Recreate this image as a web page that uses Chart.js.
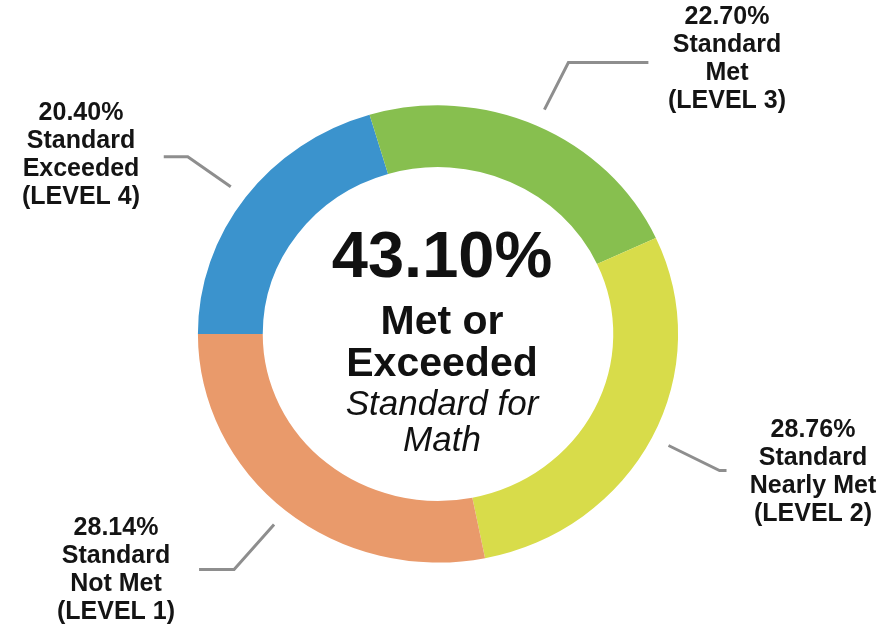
<!DOCTYPE html>
<html>
<head>
<meta charset="utf-8">
<title>Math results</title>
<script src="https://cdn.jsdelivr.net/npm/chart.js@4"></script>
<style>
    html, body { margin: 0; padding: 0; background: #ffffff; }
    #chart { display: block; }
</style>
</head>
<body>
<canvas id="chart" width="888" height="630"></canvas>
<script>
// data, clockwise from 9 o'clock
const categories = [
    ['Standard', 'Exceeded', '(LEVEL 4)'],
    ['Standard', 'Met', '(LEVEL 3)'],
    ['Standard', 'Nearly Met', '(LEVEL 2)'],
    ['Standard', 'Not Met', '(LEVEL 1)']
];
const percentValues = [20.40, 22.70, 28.76, 28.14];
const sliceColors = ['#3b93cd', '#87bf4f', '#d8dc4a', '#e99a6b'];
const centerTitle = ['Met or', 'Exceeded'];
const centerSubtitle = ['Standard for', 'Math'];

// label placement: elbow offset from the leader start, horizontal run, text block
const labelLayout = [
    { bend: [-43, -30], run: -24, textX: 81, textY: 113 },
    { bend: [24, -47], run: 80, textX: 727, textY: 17 },
    { bend: [51, 25], run: 7, textX: 813, textY: 430 },
    { bend: [-40, 45], run: -35, textX: 116, textY: 528 }
];

// the original ring is a touch wider than tall
const RING_SX = 1.026;
const RING_SY = 0.977;

const FONT = '"Liberation Sans", Arial, Helvetica, sans-serif';

const stretchPlugin = {
    id: 'stretch',
    beforeDatasetsDraw(chart) {
        const arc = chart.getDatasetMeta(0).data[0];
        const ctx = chart.ctx;
        ctx.save();
        ctx.translate(arc.x, arc.y);
        ctx.scale(RING_SX, RING_SY);
        ctx.translate(-arc.x, -arc.y);
    },
    afterDatasetsDraw(chart) {
        chart.ctx.restore();
    }
};

const calloutPlugin = {
    id: 'callouts',
    afterDatasetsDraw(chart) {
        const ctx = chart.ctx;
        const arcs = chart.getDatasetMeta(0).data;
        ctx.save();

        // leader lines + outside labels
        arcs.forEach(function(arc, i) {
            const mid = (arc.startAngle + arc.endAngle) / 2;
            const r = arc.outerRadius + 18;
            const x0 = arc.x + Math.cos(mid) * r * RING_SX;
            const y0 = arc.y + Math.sin(mid) * r * RING_SY;
            const lay = labelLayout[i];
            const x1 = x0 + lay.bend[0];
            const y1 = y0 + lay.bend[1];

            ctx.strokeStyle = '#8e8e8e';
            ctx.lineWidth = 3;
            ctx.beginPath();
            ctx.moveTo(x0, y0);
            ctx.lineTo(x1, y1);
            ctx.lineTo(x1 + lay.run, y1);
            ctx.stroke();

            const lines = [percentValues[i].toFixed(2) + '%'].concat(categories[i]);
            ctx.fillStyle = '#141414';
            ctx.font = 'bold 25px ' + FONT;
            ctx.textAlign = 'center';
            ctx.textBaseline = 'middle';
            lines.forEach(function(t, k) {
                ctx.fillText(t, lay.textX, lay.textY + k * 28);
            });
        });

        // centre text
        const cx = arcs[0].x + 4;
        const cy = arcs[0].y;
        const metTotal = percentValues[0] + percentValues[1];
        ctx.fillStyle = '#111111';
        ctx.textAlign = 'center';
        ctx.textBaseline = 'middle';
        ctx.font = 'bold 65px ' + FONT;
        ctx.fillText(metTotal.toFixed(2) + '%', cx, cy - 75);
        ctx.font = 'bold 41px ' + FONT;
        ctx.fillText(centerTitle[0], cx, cy - 11);
        ctx.fillText(centerTitle[1], cx, cy + 31);
        ctx.font = 'italic 35px ' + FONT;
        ctx.fillText(centerSubtitle[0], cx, cy + 71);
        ctx.fillText(centerSubtitle[1], cx, cy + 107);
        ctx.restore();
    }
};

const chart = new Chart(document.getElementById('chart'), {
    type: 'doughnut',
    data: {
        labels: categories.map(c => c.join(' ')),
        datasets: [{
            data: percentValues,
            backgroundColor: sliceColors,
            borderWidth: 0
        }]
    },
    options: {
        responsive: false,
        animation: false,
        rotation: -90,
        cutout: '73%',
        layout: {
            padding: { left: 204, right: 216, top: 100, bottom: 62 }
        },
        plugins: {
            legend: { display: false },
            tooltip: { enabled: false }
        }
    },
    plugins: [stretchPlugin, calloutPlugin]
});
</script>
</body>
</html>
